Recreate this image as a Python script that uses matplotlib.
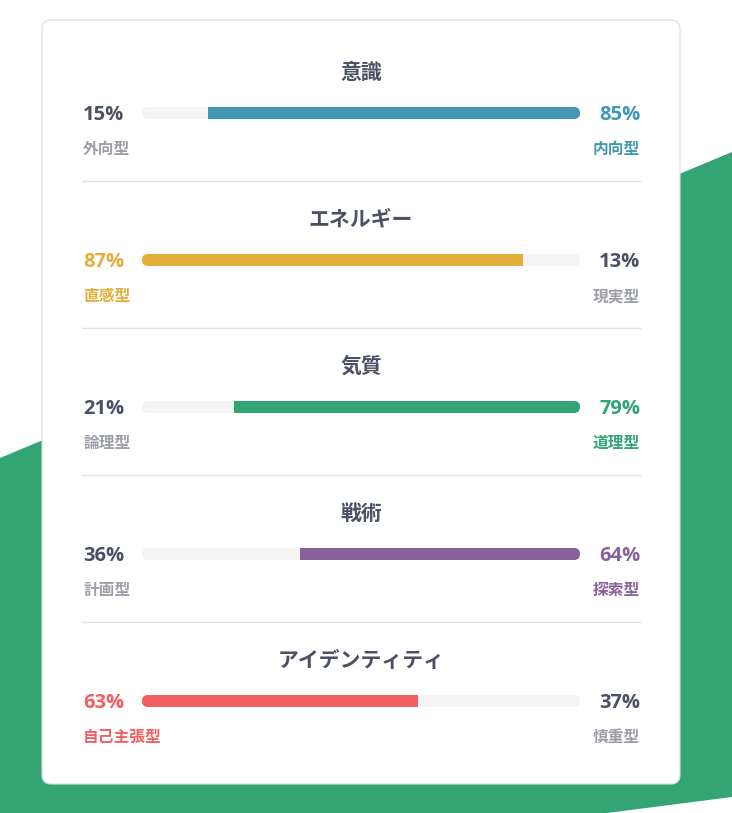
import matplotlib
matplotlib.use("Agg")
import matplotlib.pyplot as plt
from matplotlib.patches import FancyBboxPatch, Polygon

# ---- data ----
titles = ["意識", "エネルギー", "気質", "戦術", "アイデンティティ"]
left_labels = ["外向型", "直感型", "論理型", "計画型", "自己主張型"]
right_labels = ["内向型", "現実型", "道理型", "探索型", "慎重型"]
left_values = [15, 87, 21, 36, 63]
right_values = [85, 13, 79, 64, 37]
colors = ["#4298b4", "#e4ae3a", "#33a474", "#88619a", "#f25e62"]

W, H = 732, 813
DPI = 100
fig = plt.figure(figsize=(W / DPI, H / DPI), dpi=DPI)
fig.patch.set_facecolor("white")

bg = fig.add_axes([0, 0, 1, 1])
bg.set_xlim(0, W)
bg.set_ylim(H, 0)
bg.axis("off")

GREEN = "#33a474"
DARK = "#4b5064"
GRAY = "#9c9ea8"
TRACK = "#f4f4f4"
CJK = ["Noto Sans CJK JP", "DejaVu Sans"]
LAT = ["Open Sans", "Noto Sans CJK JP", "DejaVu Sans"]

# background green shape
bg.add_patch(Polygon([(0, 458), (732, 152), (732, 797), (607, 813), (0, 813)],
                     closed=True, facecolor=GREEN, edgecolor="none", zorder=0))
# card
bg.add_patch(FancyBboxPatch((42, 20), 638, 764,
                            boxstyle="round,pad=0,rounding_size=9",
                            facecolor="white", edgecolor="#dcdcdc", lw=0.8, zorder=1))

row_step = 147
title_y0, bar_y0, lab_y0 = 72, 113, 149
bar_x0, bar_x1, bar_h = 142, 580, 12

for i in range(len(titles)):
    dy = i * row_step
    lv, rv, c = left_values[i], right_values[i], colors[i]
    left_dom = lv > rv
    bg.text(W / 2 - 5, title_y0 + dy, titles[i], ha="center", va="center",
            fontsize=15, fontweight="bold", color=DARK, family=CJK, zorder=3)
    bg.text(83, bar_y0 + 1.5 + dy, f"{lv}%", ha="left", va="center",
            fontsize=14.5, fontweight="bold", color=c if left_dom else DARK,
            family=LAT, zorder=3)
    bg.text(640, bar_y0 + 1.5 + dy, f"{rv}%", ha="right", va="center",
            fontsize=14.5, fontweight="bold", color=c if not left_dom else DARK,
            family=LAT, zorder=3)
    bg.text(83, lab_y0 + dy, left_labels[i], ha="left", va="center",
            fontsize=11.3, fontweight="bold", color=c if left_dom else GRAY,
            family=CJK, zorder=3)
    bg.text(640, lab_y0 + dy, right_labels[i], ha="right", va="center",
            fontsize=11.3, fontweight="bold", color=c if not left_dom else GRAY,
            family=CJK, zorder=3)
    if i < len(titles) - 1:
        bg.plot([82, 640], [181 + dy, 181 + dy], color="#e3e3e3", lw=1, zorder=3)

    # bar axes in pixel placement
    yc = bar_y0 + dy
    ax = fig.add_axes([bar_x0 / W, 1 - (yc + bar_h / 2) / H,
                       (bar_x1 - bar_x0) / W, bar_h / H])
    ax.set_xlim(0, 100)
    ax.set_ylim(0, 1)
    ax.axis("off")
    ax.patch.set_alpha(0)
    r_x = (bar_h / 2) / (bar_x1 - bar_x0) * 100
    track = FancyBboxPatch((0, 0), 100, 1,
                           boxstyle=f"round,pad=0,rounding_size={r_x}",
                           mutation_aspect=0.5 / r_x,
                           facecolor=TRACK, edgecolor="none")
    ax.add_patch(track)
    if left_dom:
        bars = ax.barh(0.5, lv, left=0, height=1, color=c)
    else:
        bars = ax.barh(0.5, rv, left=lv, height=1, color=c)
    for b in bars:
        b.set_clip_path(track)

fig.savefig("out.png", dpi=DPI)
